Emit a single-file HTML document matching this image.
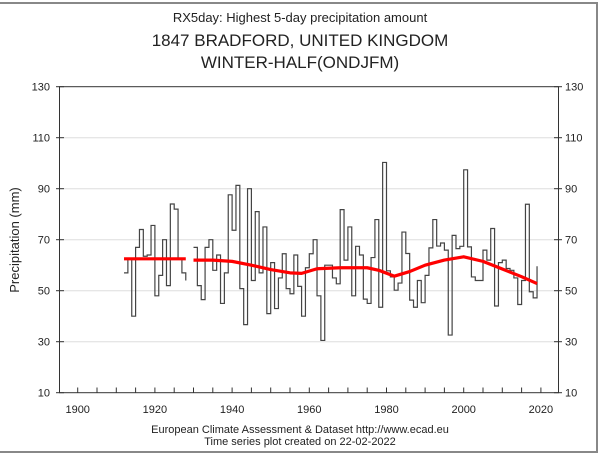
<!DOCTYPE html>
<html><head><meta charset="utf-8"><style>
html,body{margin:0;padding:0;background:#fff}
svg{display:block;font-family:"Liberation Sans",Arial,sans-serif}
</style></head><body>
<svg width="600" height="462" viewBox="0 0 600 462">
<rect x="0" y="0" width="600" height="462" fill="#fff"/>
<line x1="0" y1="3" x2="598" y2="3" stroke="#888" stroke-width="2"/>
<line x1="597" y1="3" x2="597" y2="452" stroke="#888" stroke-width="2"/>
<line x1="0" y1="452" x2="598" y2="452" stroke="#888" stroke-width="2"/>
<text x="300" y="22" font-size="13" text-anchor="middle" fill="#222">RX5day: Highest 5-day precipitation amount</text>
<text x="300" y="46" font-size="17" text-anchor="middle" fill="#222">1847 BRADFORD, UNITED KINGDOM</text>
<text x="300" y="68" font-size="17" text-anchor="middle" fill="#222">WINTER-HALF(ONDJFM)</text>
<text transform="translate(19,240) rotate(-90)" font-size="13" text-anchor="middle" fill="#222">Precipitation (mm)</text>
<g id="grid"></g>
<g id="series"></g>
<rect x="59.5" y="86.7" width="499" height="306" fill="none" stroke="#333" stroke-width="1"/>
<g id="axes"></g>
<text x="300" y="433" font-size="11" text-anchor="middle" fill="#222">European Climate Assessment &amp; Dataset  http://www.ecad.eu</text>
<text x="300" y="445" font-size="11" text-anchor="middle" fill="#222">Time series plot created on 22-02-2022</text>
</svg>
<script>
const yTicks = [10,30,50,70,90,110,130];
const xTickLabels = [1900,1920,1940,1960,1980,2000,2020];
const years1 = [1912,1913,1914,1915,1916,1917,1918,1919,1920,1921,1922,1923,1924,1925,1926,1927,1928];
const values1 = [57,62.5,40,67,74,63.5,64,75.6,48,56,70,52,84,82,62.5,57,54];
const startYear2 = 1930;
const values2 = [67,52,46.5,67,70,58,64,45,57,87.6,73.7,91.3,
 50.8,36.7,90,54,81,57,75,41,61,43,55,64.5,50.8,48.8,64,51.7,40,59,64.5,70,48,30.5,
 60,60,55,52.7,81.8,62,75,48,67.4,64,46.7,45,63,77.9,43.5,100.3,57.8,55.4,50.2,53,73,64.6,46.3,43.5,54,45.3,56,66.8,77.9,67.5,
 68.7,65.9,32.6,71.7,66.5,67.4,97.4,67.2,55.4,54,54,65.9,62,74.4,44,61,62,58.7,58,55,44.6,54,83.9,49.6,47.2,59.6];
const trendYears1 = [1912,1920,1928];
const trendValues1 = [62.5,62.5,62.5];
const trendYears2 = [1930,1935,1940,1945,1950,1955,1958,1962,1968,1975,1978,1982,1986,1990,1995,2000,2005,2010,2015,2019];
const trendValues2 = [62,62,61.5,60,58.3,57,56.8,58.6,59,59,58,55.7,57.5,60,62,63.3,61.5,58.5,55.5,52.8];

const NS='http://www.w3.org/2000/svg';
function xS(yr){return 77.7+(yr-1900)*3.86;}
function yS(v){return 392.7-(v-10)*2.55;}
function mk(tag,attrs,parent){const e=document.createElementNS(NS,tag);for(const k in attrs)e.setAttribute(k,attrs[k]);parent.appendChild(e);return e;}
const grid=document.getElementById('grid'), axes=document.getElementById('axes'), series=document.getElementById('series');
yTicks.forEach(v=>{
  if(v>10&&v<130){const g=mk('line',{x1:60,x2:558,y1:yS(v),y2:yS(v),stroke:'#ddd','stroke-width':1},grid);
  
  }
  const t1=mk('line',{x1:56,x2:64,y1:yS(v),y2:yS(v),stroke:'#333'},axes);
  
  
  const t2=mk('line',{x1:554,x2:562,y1:yS(v),y2:yS(v),stroke:'#333'},axes);
  
  
  const l=mk('text',{x:50,y:yS(v)+4,'font-size':11,'text-anchor':'end',fill:'#222'},axes);l.textContent=v;
  
  
  const r=mk('text',{x:565,y:yS(v)+4,'font-size':11,fill:'#222'},axes);r.textContent=v;
  
  
});
for(let yr=1900;yr<=2020;yr+=5){
  const t=mk('line',{x1:xS(yr),x2:xS(yr),y1:392.7,y2:387.5,stroke:'#333'},axes);
  
  
}
xTickLabels.forEach(yr=>{
  const l=mk('text',{x:xS(yr),y:413,'font-size':11,'text-anchor':'middle',fill:'#222'},axes);l.textContent=yr;
  
  
});
function stepPath(yrs,vals){
  let d='M'+xS(yrs[0])+' '+yS(vals[0]);
  for(let i=0;i<vals.length-1;i++){
    d+=' H'+xS(yrs[i]+1)+' V'+yS(vals[i+1]);
  }
  return d;
}
const years2=values2.map((v,i)=>startYear2+i);
[[years1,values1],[years2,values2]].forEach(([ys,vs])=>{
  const p=mk('path',{d:stepPath(ys,vs),fill:'none',stroke:'#444','stroke-width':1.2},series);
  
  
});
[[trendYears1,trendValues1],[trendYears2,trendValues2]].forEach(([ys,vs])=>{
  const pts=ys.map((y,i)=>xS(y)+','+yS(vs[i])).join(' ');
  const p=mk('polyline',{points:pts,fill:'none',stroke:'#f00','stroke-width':3.2,'stroke-linejoin':'round'},series);
  
  
});
</script>
</body></html>
